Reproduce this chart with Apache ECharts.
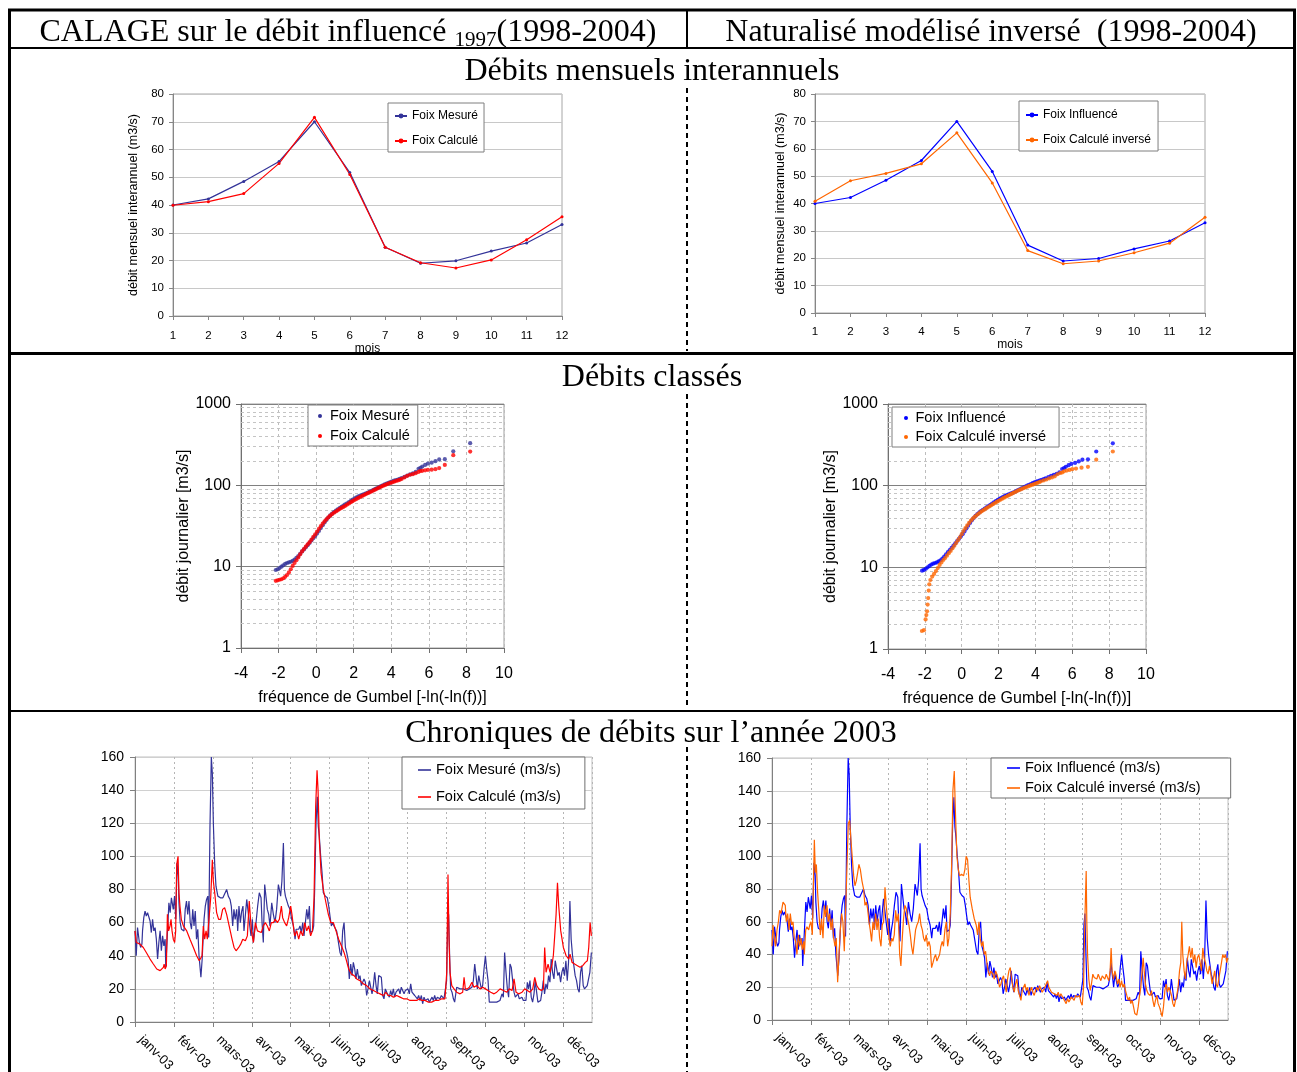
<!DOCTYPE html>
<html><head><meta charset="utf-8">
<script src="https://cdn.jsdelivr.net/npm/echarts/dist/echarts.min.js"></script>
<style>html,body{margin:0;padding:0;background:#fff;}#c{width:1297px;height:1072px;}</style>
</head><body><div id="c"></div>
<script>
// ---------- DATA ----------
const months = [1,2,3,4,5,6,7,8,9,10,11,12];
const mensMesure  = [40.0, 42.2, 48.5, 55.7, 70.0, 51.7, 24.8, 19.0, 19.9, 23.4, 26.3, 33.0];
const mensCalcule = [39.9, 41.2, 44.1, 55.0, 71.6, 51.0, 24.8, 19.2, 17.3, 20.2, 27.5, 35.8];
const mensInverse = [40.8, 48.3, 51.0, 54.5, 65.8, 47.5, 22.8, 18.0, 19.0, 22.0, 25.5, 35.0];

const logMajorLabels = [1, 10, 100, 1000];
const logMinorLines = [2,3,4,5,6,7,8,9,20,30,40,50,60,70,80,90,200,300,400,500,600,700,800,900];

const classesMesure = [[-2.15,9.1],[-2.05,9.3],[-1.95,9.6],[-1.85,10],[-1.75,10.4],[-1.65,10.8],[-1.55,11.1],[-1.45,11.3],[-1.35,11.5],[-1.25,11.8],[-1.15,12.2],[-1.05,12.8],[-0.95,13.5],[-0.85,14.4],[-0.75,15.4],[-0.65,16.3],[-0.55,17.3],[-0.45,18.4],[-0.35,19.6],[-0.25,21],[-0.15,22.4],[-0.05,23.8],[0.05,25.5],[0.15,27.5],[0.25,29.8],[0.35,32.3],[0.45,35],[0.55,37.6],[0.65,40.2],[0.75,42.6],[0.85,44.8],[0.95,46.8],[1.05,48.8],[1.15,50.7],[1.25,52.5],[1.35,54.3],[1.45,56.2],[1.55,58.2],[1.65,60.2],[1.75,62.3],[1.85,64.5],[1.95,66.8],[2.05,69],[2.15,71],[2.25,73],[2.35,74.8],[2.45,76.5],[2.55,78.2],[2.65,79.8],[2.75,81.5],[2.85,83.5],[2.95,85.6],[3.05,88],[3.15,90.3],[3.25,92.6],[3.35,95],[3.45,97.6],[3.55,100.2],[3.65,102.5],[3.75,104.8],[3.85,107.2],[3.95,109.5],[4.05,112],[4.15,114],[4.25,116],[4.35,118],[4.45,120],[4.55,123],[4.7,127],[4.85,132],[5,136],[5.15,140],[5.3,146],[5.45,160],[5.55,164],[5.65,170],[5.8,178],[5.95,185],[6.15,190],[6.35,198],[6.55,208],[6.85,210],[7.3,262],[8.2,330]];
const classesCalcule = [[-2.15,6.7],[-2.05,6.8],[-1.95,6.9],[-1.85,7],[-1.75,7.2],[-1.65,7.5],[-1.55,7.9],[-1.45,8.5],[-1.35,9.3],[-1.25,10.2],[-1.15,11.1],[-1.05,12],[-0.95,13],[-0.85,14.2],[-0.75,15.4],[-0.65,16.5],[-0.55,17.6],[-0.45,18.8],[-0.35,20],[-0.25,21.5],[-0.15,23.2],[-0.05,25],[0.05,27],[0.15,29.2],[0.25,31.5],[0.35,33.8],[0.45,36],[0.55,38.3],[0.65,40.5],[0.75,42.5],[0.85,44.3],[0.95,46],[1.05,47.7],[1.15,49.3],[1.25,51],[1.35,52.7],[1.45,54.3],[1.55,56],[1.65,58],[1.75,60],[1.85,62],[1.95,64],[2.05,66],[2.15,68],[2.25,70],[2.35,72],[2.45,74],[2.55,76],[2.65,78],[2.75,80],[2.85,82],[2.95,84],[3.05,86.5],[3.15,88.8],[3.25,91.2],[3.35,93.5],[3.45,95.8],[3.55,98.2],[3.65,100.5],[3.75,102.8],[3.85,105],[3.95,107],[4.05,109],[4.15,111],[4.25,113],[4.35,115],[4.45,117],[4.55,120],[4.7,125],[4.85,131],[5,135],[5.15,137],[5.3,141],[5.45,146],[5.55,150],[5.65,151],[5.8,153],[5.95,155],[6.15,156],[6.35,158],[6.55,163],[6.85,178],[7.3,235],[8.2,260]];
const classesInverse = [[-2.16,1.66],[-2.05,1.7],[-1.96,2.3],[-1.92,2.6],[-1.88,2.9],[-1.85,3.5],[-1.82,4.2],[-1.79,5.2],[-1.76,6.2],[-1.7,7],[-1.6,7.7],[-1.5,8.3],[-1.4,9],[-1.3,9.8],[-1.2,10.7],[-1.1,11.5],[-1,12.3],[-0.9,13],[-0.8,13.9],[-0.7,14.9],[-0.6,15.9],[-0.5,17.1],[-0.4,18.4],[-0.3,19.9],[-0.2,21.5],[-0.1,23.3],[0,25.5],[0.1,27.8],[0.2,30.2],[0.3,32.6],[0.4,35],[0.5,37.3],[0.6,39.4],[0.7,41.4],[0.8,43.3],[0.9,45.2],[1,47],[1.1,48.8],[1.2,50.5],[1.3,52.2],[1.4,53.9],[1.5,55.7],[1.6,57.5],[1.7,59.3],[1.8,61.3],[1.9,63.2],[2,65.2],[2.1,67.2],[2.2,69.2],[2.3,71.2],[2.4,73.2],[2.5,75.2],[2.6,77.2],[2.7,79.3],[2.8,81.5],[2.9,83.7],[3,85.9],[3.1,88],[3.2,90],[3.3,92],[3.4,94],[3.5,96],[3.6,98],[3.7,100],[3.8,102],[3.9,104],[4,106],[4.1,108],[4.2,110.5],[4.3,113],[4.45,116],[4.6,119],[4.75,123],[4.9,126],[5.05,130],[5.2,138],[5.35,143],[5.45,145],[5.55,150],[5.7,153],[5.85,156],[6,159],[6.2,162],[6.5,166],[6.85,170],[7.3,208],[8.2,262]];

const monthLabels = ['janv-03','févr-03','mars-03','avr-03','mai-03','juin-03','juil-03','août-03','sept-03','oct-03','nov-03','déc-03'];

// daily flows 2003, [day of year index, m3/s]
const chronMesure = [[0,55],[1,40],[2,57],[3.5,48],[4.5,45],[5.5,47],[6,55],[7,63],[8,67],[9,64],[10,66],[11,67],[12,61],[13,54],[14,62],[15,55],[16,57],[17,50],[18,38],[19,48],[20,55],[21,43],[22,52],[23,46],[24,50],[24.5,33],[26,32],[27,72],[28,66],[29,75],[30.5,68],[31.5,76],[32.5,62],[33.5,96],[34.5,88],[35,72],[36,60],[37,56],[39,55],[40,68],[41,73],[42,65],[43,73],[44,60],[45,56],[46,68],[47,58],[48,67],[49,50],[50,56],[51,40],[52.5,27],[53.5,38],[55,62],[56,70],[57,74],[58,76],[58.7,51],[59.7,117],[60.8,160],[61.6,150],[62.4,120],[63.5,95],[64.5,82],[66,76],[68,75],[70,75],[71.5,76],[73,80],[74.3,76],[75.7,74],[76.7,70],[77.8,58],[78.8,68],[79.8,62],[81,68],[81.8,55],[82.8,70],[83.9,60],[85,67],[86,70],[86.8,55],[87.9,55],[89,74],[90.3,74],[91.4,58],[92.4,52],[93.5,62],[94.3,48],[95.3,55],[96.4,60],[97.7,70],[99,78],[100.4,75],[101.2,60],[102.2,48],[103.3,83],[104.4,83],[105.4,68],[106.5,65],[107.5,58],[108.9,72],[110.2,65],[111.5,60],[112.8,68],[114.2,83],[115,80],[116,76],[117,85],[118.2,108],[119,80],[119.8,76],[120.8,75],[122.2,70],[123.5,68],[124.8,62],[126.2,58],[127.5,50],[128.3,56],[129.4,57],[130.4,56],[131.4,58],[132.5,54],[133.6,60],[134.6,52],[135.7,60],[136.8,68],[137.8,62],[138.9,70],[139.7,54],[140.7,53],[141.5,55],[142.3,58],[143.1,80],[144.2,120],[145.2,136],[146,118],[146.8,112],[147.9,100],[149,90],[150,78],[151.6,76],[153.2,75],[154.3,70],[155.3,64],[156.4,58],[157.5,60],[158.5,58],[159.6,57],[160.6,55],[162,55],[163.3,42],[164.4,40],[165.4,55],[166.5,60],[167.6,45],[168.6,42],[169.7,38],[170.7,26],[171.8,35],[172.9,28],[173.9,36],[175,32],[176,26],[177.1,32],[178.2,26],[179.2,28],[180.3,22],[181.4,22],[182.4,26],[183.5,24],[184.5,16],[185.6,20],[186.7,25],[187.7,24],[188.8,17],[189.9,22],[190.9,30],[192,22],[193,17],[194.1,28],[195.2,28],[196.2,27],[197.3,16],[198.3,14],[199.4,20],[200.5,18],[201.5,19],[202.6,15],[203.6,19],[204.7,16],[205.8,20],[206.8,15],[207.9,18],[209,17],[210,20],[211.1,17],[212.1,21],[213.2,19],[214.3,17],[215.3,19],[216.4,18],[217.4,20],[218.5,17],[219.6,23],[220.6,18],[221.7,17],[222.8,16],[223.8,17],[224.9,14],[225.9,16],[227,13],[228.1,16],[229.1,11],[230.2,15],[231.2,13],[232.3,12],[233.4,14],[234.4,12],[235.5,13],[236.6,15],[237.6,13],[238.7,16],[239.7,13],[240.8,15],[241.9,14],[242.9,14],[244,16],[245,15],[246.1,14],[247.2,14],[248.2,25],[249,58],[249.8,65],[250.6,40],[251.4,20],[252.5,18],[253.6,14],[254.6,12],[255.7,12],[256.2,21],[257.6,20],[258.9,20],[261.5,20],[264.2,19],[266.3,20],[267.4,20],[268.4,21],[269.5,25],[270.6,35],[271.6,28],[272.7,20],[273.8,28],[274.8,24],[275.9,20],[276.9,22],[278,32],[279.1,40],[280.1,32],[281.2,25],[282.2,12],[283.3,11],[285.4,12],[288.1,12],[290.7,13],[292.3,17],[293.4,15],[294.4,42],[295.5,30],[296.6,20],[297.6,15],[298.7,35],[299.7,33],[300.8,25],[301.9,18],[302.9,15],[304,15],[305,17],[306.1,14],[307.2,13],[308.2,15],[309.3,13],[310.3,12],[311.4,13],[312.5,24],[313.5,20],[314.6,25],[315.6,15],[316.7,12],[317.8,17],[318.8,25],[319.9,18],[320.9,12],[322,12],[323.1,13],[324.1,18],[325.2,25],[326.2,17],[327.3,23],[328.4,20],[329.4,28],[330.5,24],[331.5,38],[332.6,30],[333.7,26],[334.7,37],[335.8,38],[336.8,28],[337.9,30],[339,24],[340,30],[341.1,33],[342.1,28],[343.2,37],[344.3,25],[345.3,36],[346.4,73],[347.4,50],[348.5,40],[349.6,41],[350.6,28],[351.7,25],[352.7,20],[353.8,18],[354.9,30],[355.9,34],[357,22],[358,20],[359.1,20],[360.2,22],[361.2,22],[362.3,30],[363.5,42]];
const chronCalcule = [[0,55],[1,48],[4,47],[6.6,45],[9,42],[12,38],[14.6,35],[17.3,32],[20,31],[21.3,31],[22.6,33],[23.2,35],[24,32],[25,34],[25.8,65],[26.8,55],[27.9,58],[28.7,62],[29.5,55],[30.5,50],[31.6,48],[32.4,55],[33.2,95],[34.3,100],[35,78],[35.8,70],[36.9,62],[38.5,58],[41.2,55],[43.8,50],[46.5,45],[49.1,40],[51.2,37],[52.3,36],[53.4,40],[54.4,58],[55.5,50],[56.6,55],[57.6,50],[58.7,60],[60.3,75],[61.6,98],[62.4,85],[63.5,78],[65,66],[66.6,62],[68.2,62],[69.8,68],[71.4,69],[73,65],[75,58],[77.3,50],[78.9,45],[80.5,43],[82.6,45],[84.2,47],[85.8,50],[87.9,49],[89.5,52],[91,73],[92.7,55],[94.3,48],[95.9,60],[97.5,55],[99,56],[100.6,54],[102.2,58],[103.8,60],[105.4,58],[107,55],[108.6,60],[110.2,60],[111.8,62],[113.4,60],[115,62],[116.6,70],[117.6,63],[119.2,60],[120.8,58],[122.4,63],[124,70],[125,65],[126.1,58],[127.2,52],[128.8,55],[130.4,50],[132,55],[133.6,52],[135.2,60],[136.8,55],[138.3,58],[139.9,52],[141.3,55],[142.6,75],[143.9,130],[145,152],[145.8,140],[146.8,110],[148.2,90],[150,80],[152.1,72],[154,65],[155.9,60],[158,60],[160.1,55],[162.2,50],[164.4,46],[166.5,42],[168.1,38],[170.2,32],[172.3,29],[174.5,28],[176.6,26],[179.2,25],[181.9,23],[184.5,22],[187.2,20],[189.9,19],[192.5,18],[195.2,17],[197.8,16],[199.9,18],[201.5,16],[203.7,16],[205.8,15],[208.4,16],[211.1,15],[213.8,14],[216.4,14],[219.1,13],[221.7,13],[224.4,13],[226.5,14],[228.4,13],[231,13],[233.7,12],[236.3,12],[239,13],[241.6,13],[244.3,14],[246.9,14],[248.3,30],[249.3,89],[250.1,50],[250.9,30],[252.3,22],[254.1,20],[256.2,18],[258.9,17],[261,18],[262.1,27],[263.1,20],[264.7,20],[266.3,21],[268.4,24],[270,21],[272.2,22],[274.8,20],[277,21],[279.1,20],[281.2,19],[283.3,18],[286,17],[288.1,18],[290.8,20],[293.4,19],[296.1,18],[298.2,20],[300.3,19],[301.9,26],[303.5,18],[305.6,17],[308.3,18],[310.4,20],[312.5,19],[314.6,18],[316.8,20],[318.4,27],[320,22],[321.6,20],[323.7,19],[325.3,20],[326.3,45],[327.4,30],[329,35],[330.6,30],[332.2,35],[333.2,40],[334.3,52],[335.4,65],[336.5,84],[337.5,70],[339.1,55],[341.2,45],[343.4,40],[345.5,38],[346.5,41],[348.1,36],[350.2,35],[352.4,34],[354.5,33],[356.6,34],[358.7,36],[360.3,37],[361.4,45],[362.5,60],[363.5,52]];
const chronInverse = [[0,45],[0.8,58],[1.9,50],[2.9,45],[4,55],[5.1,60],[6.1,67],[7.2,65],[8.8,72],[10.6,70],[11.4,60],[12.5,65],[13.6,55],[14.6,65],[15.7,58],[16.8,60],[17.8,50],[18.9,48],[19.9,40],[21,52],[22.1,45],[23.1,50],[24.2,43],[25.3,48],[25.8,40],[26.9,55],[27.9,57],[29.3,55],[30.1,58],[31.1,60],[32.2,52],[33.8,110],[34.6,90],[35.4,95],[36.4,78],[37.5,65],[38.6,52],[39.6,62],[40.7,50],[41.8,70],[42.8,63],[43.9,70],[44.9,60],[46,65],[47.1,55],[48.1,62],[49.2,50],[50.3,45],[51.3,50],[52.4,23],[53.5,40],[54.5,55],[55.6,65],[56.6,60],[57.7,42],[59.3,80],[60.9,120],[62,122],[63,110],[64,100],[65.2,88],[66.2,82],[67.3,85],[68.4,90],[69.4,95],[70.5,92],[71.8,85],[73.1,80],[74.2,70],[75.3,72],[76.3,68],[77.4,60],[78.4,55],[79.5,48],[80.6,60],[81.6,55],[82.7,65],[83.8,55],[84.8,62],[85.9,50],[87,45],[88,58],[89.1,60],[90.2,81],[91.2,70],[92.3,60],[93.4,50],[94.4,45],[95.5,50],[96.5,48],[97.6,52],[98.7,67],[99.7,60],[100.8,65],[101.9,40],[102.9,33],[104,50],[105,62],[106.1,70],[107.2,68],[108.2,62],[109.3,58],[110.4,52],[111.4,45],[112.5,40],[113.6,48],[114.6,55],[115.7,58],[116.8,60],[117.8,65],[118.9,58],[120,55],[121,50],[122.1,48],[123.1,52],[124.2,45],[125.3,48],[126.3,45],[127.4,32],[128.5,35],[129.5,38],[130.6,40],[131.6,36],[132.7,38],[133.8,40],[134.8,45],[135.9,48],[136.9,45],[138,55],[139.1,60],[140.2,45],[141.2,50],[142.3,65],[143.4,95],[144.4,140],[145.5,152],[146.5,125],[147.6,100],[148.7,92],[149.7,88],[151.3,89],[152.9,88],[154,92],[155,100],[156.1,98],[157.2,85],[158.2,75],[159.8,68],[161.4,62],[163,58],[164.1,52],[165.2,60],[166.2,50],[167.3,45],[168.4,48],[169.4,40],[170.5,42],[171.5,35],[172.6,30],[173.7,27],[174.7,30],[176.3,28],[177.4,25],[178.5,30],[179.5,28],[180.6,25],[181.6,20],[182.7,22],[183.8,25],[184.8,27],[185.9,22],[187,17],[188,25],[189.1,30],[190.2,32],[191.2,25],[192.3,20],[193.4,17],[194.4,22],[195.5,25],[196.5,18],[197.6,15],[198.7,12],[199.7,18],[200.8,20],[201.9,22],[202.9,18],[204,20],[205.1,15],[206.1,18],[207.2,20],[208.2,17],[209.3,15],[210.4,18],[211.4,20],[212.5,18],[213.6,21],[214.6,20],[215.7,17],[216.8,18],[217.8,20],[218.9,22],[220,24],[221,20],[222.1,19],[223.1,17],[224.2,18],[225.3,16],[226.3,17],[227.4,15],[228.5,17],[229.5,14],[230.6,16],[231.6,15],[232.7,13],[233.8,12],[234.8,10],[235.9,13],[237,11],[238,12],[239.1,14],[240.2,13],[241.2,12],[242.3,15],[243.9,14],[245.5,15],[246.5,11],[247.6,9],[248.7,20],[249.7,60],[250.8,91],[251.3,60],[251.9,40],[252.9,25],[254,18],[255,22],[256.1,28],[257.2,26],[258.2,27],[259.3,25],[260.4,28],[261.4,26],[262.5,24],[263.6,27],[264.6,28],[265.7,25],[266.8,28],[267.8,26],[268.9,24],[269.9,30],[270.7,44],[271.5,30],[272.6,25],[273.7,30],[274.7,27],[275.8,22],[276.9,25],[277.9,20],[279,24],[280.1,20],[281.1,22],[282.2,18],[283.2,15],[284.3,12],[285.4,14],[286.4,10],[287.5,12],[288.6,8],[289.6,4],[291.2,3],[292.3,8],[293.4,15],[294.4,20],[295.5,30],[296.3,38],[297.1,30],[298.1,22],[299.2,18],[300.3,16],[301.9,15],[302.9,18],[304,12],[305.1,8],[306.1,12],[307.2,15],[308.2,10],[309.3,8],[310.4,5],[311.4,2],[312.5,8],[313.6,18],[314.6,22],[315.7,17],[316.8,20],[317.8,18],[318.9,15],[320,10],[321,8],[322.1,12],[323.1,15],[324.2,20],[325.3,30],[326.3,35],[327.1,60],[327.9,40],[329,30],[330,25],[331.1,35],[332.2,40],[333.2,45],[334.3,38],[335.4,44],[336.4,35],[337.5,40],[338.6,32],[339.6,38],[340.7,40],[341.8,35],[342.8,30],[343.9,44],[344.9,38],[346,35],[347.1,30],[348.1,28],[349.2,33],[350.3,28],[351.3,22],[352.4,26],[353.4,30],[354.5,22],[355.6,20],[356.6,25],[357.7,30],[358.8,35],[359.8,40],[360.9,38],[361.9,40],[363,35],[363.8,38]];

// ---------- STYLE ----------
const SANS = '"Liberation Sans", Arial, sans-serif';
const SERIF = '"Liberation Serif", "Times New Roman", serif';
const NAVY = '#333399', RED = '#FF0000', BLUE = '#0000FF', ORANGE = '#FF6600';

const chart = echarts.init(document.getElementById('c'), null, {renderer: 'canvas'});

function pairs(xs, ys) { return xs.map((x, i) => [x, ys[i]]); }

function monthlyX(gi, nameGap, margin) {
  return {type: 'value', gridIndex: gi, min: 1, max: 12, interval: 1,
    name: 'mois', nameLocation: 'middle', nameGap: nameGap,
    nameTextStyle: {fontSize: 12, color: '#000', fontFamily: SANS},
    axisLine: {show: true, onZero: false, lineStyle: {color: '#868686'}},
    axisTick: {show: true, length: 4, lineStyle: {color: '#868686'}},
    axisLabel: {fontSize: 11.5, color: '#000', margin: margin, fontFamily: SANS},
    splitLine: {show: false}};
}
function monthlyY(gi, nameGap) {
  return {type: 'value', gridIndex: gi, min: 0, max: 80, interval: 10,
    name: 'débit mensuel interannuel (m3/s)', nameLocation: 'middle', nameGap: nameGap,
    nameTextStyle: {fontSize: 12.5, color: '#000', fontFamily: SANS},
    axisLine: {show: true, onZero: false, lineStyle: {color: '#868686'}},
    axisTick: {show: true, length: 4, lineStyle: {color: '#868686'}},
    axisLabel: {fontSize: 11.5, color: '#000', margin: 9, fontFamily: SANS},
    splitLine: {show: true, lineStyle: {color: '#C8C8C8', width: 1}}};
}
function gumbelX(gi) {
  return {type: 'value', gridIndex: gi, min: -4, max: 10, interval: 2,
    name: 'fréquence de Gumbel [-ln(-ln(f))]', nameLocation: 'middle', nameGap: 42,
    nameTextStyle: {fontSize: 16, color: '#000', fontFamily: SANS},
    axisLine: {show: true, onZero: false, lineStyle: {color: '#707070'}},
    axisTick: {show: true, length: 5, lineStyle: {color: '#707070'}},
    axisLabel: {fontSize: 16, color: '#000', margin: 18, fontFamily: SANS},
    splitLine: {show: true, lineStyle: {color: '#BDBDBD', type: [3, 3], width: 1}}};
}
function gumbelY(gi, nameGap) {
  return {type: 'log', logBase: 10, gridIndex: gi, min: 1, max: 1000,
    name: 'débit journalier [m3/s]', nameLocation: 'middle', nameGap: nameGap,
    nameTextStyle: {fontSize: 16, color: '#000', fontFamily: SANS},
    axisLine: {show: true, onZero: false, lineStyle: {color: '#707070'}},
    axisTick: {show: true, length: 5, lineStyle: {color: '#707070'}},
    axisLabel: {fontSize: 16, color: '#000', margin: 10, fontFamily: SANS,
      formatter: v => { const r = Math.round(v); return logMajorLabels.indexOf(r) >= 0 ? String(r) : ''; }},
    splitLine: {show: true, lineStyle: {color: '#808080', width: 1}}};
}
function chronX(gi) {
  return {type: 'value', gridIndex: gi, min: 0, max: 364, interval: 31,
    axisLine: {show: true, onZero: false, lineStyle: {color: '#808080'}},
    axisTick: {show: true, length: 5, lineStyle: {color: '#808080'}},
    axisLabel: {fontSize: 13, color: '#000', margin: 10, rotate: -45, fontFamily: SANS,
      padding: [0, 0, 0, 8], showMaxLabel: false,
      formatter: v => { const k = Math.round(v / 31); return (Math.abs(v - k * 31) < 0.01 && k < 12) ? monthLabels[k] : ''; }},
    splitLine: {show: true, lineStyle: {color: '#B5B5B5', type: [2, 3], width: 1}}};
}
function chronY(gi) {
  return {type: 'value', gridIndex: gi, min: 0, max: 160, interval: 20,
    axisLine: {show: true, onZero: false, lineStyle: {color: '#808080'}},
    axisTick: {show: true, length: 5, lineStyle: {color: '#808080'}},
    axisLabel: {fontSize: 14, color: '#000', margin: 11, fontFamily: SANS},
    splitLine: {show: true, lineStyle: {color: '#D0D0D0', width: 1}}};
}
function gridBox(l, t, w, h, border) {
  return {left: l, top: t, width: w, height: h, show: true, borderColor: border, borderWidth: 1,
    backgroundColor: 'transparent', containLabel: false, outerBoundsMode: 'none'};
}
function legendBox(cfg) {
  return Object.assign({orient: 'vertical', selectedMode: false, borderColor: '#7F7F7F', borderWidth: 1,
    backgroundColor: '#fff', borderRadius: 0, z: 30}, cfg);
}
function hline(x1, x2, y, w) { return {type: 'line', silent: true, shape: {x1: x1, y1: y, x2: x2, y2: y}, style: {stroke: '#000', lineWidth: w}}; }
function vline(x, y1, y2, w, dash) { return {type: 'line', silent: true, shape: {x1: x, y1: y1, x2: x, y2: y2}, style: {stroke: '#000', lineWidth: w, lineDash: dash || null}}; }
function title(x, y, txt) {
  return {type: 'text', silent: true, x: x, y: y, style: {text: txt, font: '32px ' + SERIF, fill: '#000', align: 'center', verticalAlign: 'middle'}};
}
function minorGrid(axisIdx) {
  return {type: 'line', name: '_minor' + axisIdx, xAxisIndex: axisIdx, yAxisIndex: axisIdx, data: [], z: 1, silent: true,
    markLine: {silent: true, symbol: 'none', animation: false, label: {show: false}, z: 1,
      lineStyle: {color: '#C4C4C4', type: [3, 3], width: 1}, data: logMinorLines.map(v => ({yAxis: v}))}};
}

const option = {
  animation: false,
  backgroundColor: '#fff',
  textStyle: {fontFamily: SANS},
  grid: [
    gridBox(173, 94, 389, 222, '#A6A6A6'),
    gridBox(815, 94, 390, 219, '#A6A6A6'),
    gridBox(241, 404, 263, 244, '#A0A0A0'),
    gridBox(888, 404, 258, 245, '#A0A0A0'),
    gridBox(135, 757, 457, 265, '#C0C0C0'),
    gridBox(772, 758, 456, 262, '#C0C0C0')
  ],
  xAxis: [monthlyX(0, 25, 14), monthlyX(1, 24, 13), gumbelX(2), gumbelX(3), chronX(4), chronX(5)],
  yAxis: [monthlyY(0, 33), monthlyY(1, 28), gumbelY(2, 38), gumbelY(3, 35), chronY(4), chronY(5)],
  legend: [
    legendBox({left: 388, top: 103, padding: [6, 6, 4, 6], itemGap: 11, itemWidth: 12, itemHeight: 6,
      textStyle: {fontSize: 12, lineHeight: 14, color: '#000', fontFamily: SANS}, data: ['Foix Mesuré', 'Foix Calculé']}),
    legendBox({left: 1019, top: 101, padding: [7, 7, 4, 6], itemGap: 11, itemWidth: 12, itemHeight: 6,
      textStyle: {fontSize: 12, lineHeight: 14, color: '#000', fontFamily: SANS}, data: ['Foix Influencé', 'Foix Calculé inversé']}),
    legendBox({left: 308, top: 405, padding: [3, 8, 2, 10], itemGap: 4, itemWidth: 10, itemHeight: 4,
      textStyle: {fontSize: 14.5, lineHeight: 16, color: '#000', fontFamily: SANS},
      data: [{name: 'Foix Mesuré', icon: 'circle'}, {name: 'Foix Calculé', icon: 'circle'}]}),
    legendBox({left: 892, top: 407, padding: [3, 13, 2, 12], itemGap: 3, itemWidth: 9, itemHeight: 4,
      textStyle: {fontSize: 14.5, lineHeight: 16, color: '#000', fontFamily: SANS},
      data: [{name: 'Foix Influencé', icon: 'circle'}, {name: 'Foix Calculé inversé', icon: 'circle'}]}),
    legendBox({left: 402, top: 757, padding: [5, 24, 4, 16], itemGap: 11, itemWidth: 13, itemHeight: 1.6,
      borderColor: '#6F6F6F', textStyle: {fontSize: 14.5, lineHeight: 16, color: '#000', fontFamily: SANS},
      data: [{name: 'Foix Mesuré (m3/s)', icon: 'rect'}, {name: 'Foix Calculé (m3/s)', icon: 'rect'}]}),
    legendBox({left: 991, top: 758, padding: [2, 30, 2, 16], itemGap: 4, itemWidth: 13, itemHeight: 1.6,
      borderColor: '#6F6F6F', textStyle: {fontSize: 14.5, lineHeight: 16, color: '#000', fontFamily: SANS},
      data: [{name: 'Foix Influencé (m3/s)', icon: 'rect'}, {name: 'Foix Calculé inversé (m3/s)', icon: 'rect'}]})
  ],
  series: [
    {type: 'line', name: 'Foix Mesuré', xAxisIndex: 0, yAxisIndex: 0, data: pairs(months, mensMesure),
      color: NAVY, symbol: 'circle', symbolSize: 3, showSymbol: true, lineStyle: {width: 1.2, color: NAVY}, itemStyle: {color: NAVY}},
    {type: 'line', name: 'Foix Calculé', xAxisIndex: 0, yAxisIndex: 0, data: pairs(months, mensCalcule),
      color: RED, symbol: 'circle', symbolSize: 3, showSymbol: true, lineStyle: {width: 1.2, color: RED}, itemStyle: {color: RED}},
    {type: 'line', name: 'Foix Influencé', xAxisIndex: 1, yAxisIndex: 1, data: pairs(months, mensMesure),
      color: BLUE, symbol: 'circle', symbolSize: 3, showSymbol: true, lineStyle: {width: 1.2, color: BLUE}, itemStyle: {color: BLUE}},
    {type: 'line', name: 'Foix Calculé inversé', xAxisIndex: 1, yAxisIndex: 1, data: pairs(months, mensInverse),
      color: ORANGE, symbol: 'circle', symbolSize: 3, showSymbol: true, lineStyle: {width: 1.2, color: ORANGE}, itemStyle: {color: ORANGE}},

    minorGrid(2),
    minorGrid(3),

    {type: 'scatter', name: 'Foix Mesuré', xAxisIndex: 2, yAxisIndex: 2, data: classesMesure,
      symbolSize: 4.2, itemStyle: {color: NAVY}, z: 3},
    {type: 'scatter', name: 'Foix Calculé', xAxisIndex: 2, yAxisIndex: 2, data: classesCalcule,
      symbolSize: 4.2, itemStyle: {color: RED}, z: 4},
    {type: 'scatter', name: 'Foix Influencé', xAxisIndex: 3, yAxisIndex: 3, data: classesMesure,
      symbolSize: 4.2, itemStyle: {color: BLUE}, z: 3},
    {type: 'scatter', name: 'Foix Calculé inversé', xAxisIndex: 3, yAxisIndex: 3, data: classesInverse,
      symbolSize: 4.2, itemStyle: {color: ORANGE}, z: 4},

    {type: 'line', name: 'Foix Mesuré (m3/s)', xAxisIndex: 4, yAxisIndex: 4, data: chronMesure,
      showSymbol: false, symbol: 'none', color: NAVY, itemStyle: {color: NAVY}, lineStyle: {width: 1.2, color: NAVY}},
    {type: 'line', name: 'Foix Calculé (m3/s)', xAxisIndex: 4, yAxisIndex: 4, data: chronCalcule,
      showSymbol: false, symbol: 'none', color: RED, itemStyle: {color: RED}, lineStyle: {width: 1.2, color: RED}},
    {type: 'line', name: 'Foix Influencé (m3/s)', xAxisIndex: 5, yAxisIndex: 5, data: chronMesure,
      showSymbol: false, symbol: 'none', color: BLUE, itemStyle: {color: BLUE}, lineStyle: {width: 1.2, color: BLUE}},
    {type: 'line', name: 'Foix Calculé inversé (m3/s)', xAxisIndex: 5, yAxisIndex: 5, data: chronInverse,
      showSymbol: false, symbol: 'none', color: ORANGE, itemStyle: {color: ORANGE}, lineStyle: {width: 1.2, color: ORANGE}}
  ],
  graphic: [
    hline(8, 1296, 10, 3),
    vline(9.5, 9, 1072, 3),
    vline(1294.5, 9, 1072, 3),
    hline(8, 1296, 48, 2),
    vline(687, 10, 48, 2),
    hline(8, 1296, 353.5, 3),
    hline(8, 1296, 711, 2),
    vline(687, 88, 351, 2, [5, 4]),
    vline(687, 394, 709, 2, [5, 4]),
    vline(687, 747, 1072, 2, [5, 4]),
    {type: 'text', silent: true, x: 348, y: 33, style: {
      text: '{a|CALAGE sur le débit influencé }{s|1997}{a|(1998-2004)}', fill: '#000', align: 'center', verticalAlign: 'middle',
      rich: {a: {font: '32px ' + SERIF, fontSize: 32, fontFamily: SERIF, lineHeight: 34, fill: '#000'},
             s: {font: '21px ' + SERIF, fontSize: 21, fontFamily: SERIF, lineHeight: 22, padding: [14, 0, 0, 0], fill: '#000'}}}},
    title(991, 33, 'Naturalisé modélisé inversé  (1998-2004)'),
    title(652, 72, 'Débits mensuels interannuels'),
    title(652, 378, 'Débits classés'),
    title(651, 734, 'Chroniques de débits sur l\u2019année 2003')
  ]
};
chart.setOption(option);
</script></body></html>
